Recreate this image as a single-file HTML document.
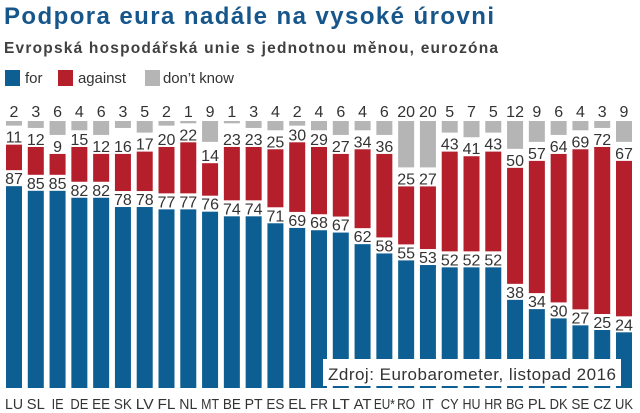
<!DOCTYPE html>
<html><head><meta charset="utf-8"><style>
body{margin:0;background:#fff;width:640px;height:413px;overflow:hidden;font-family:"Liberation Sans",sans-serif}
svg{display:block}
</style></head><body>
<svg id="chart" width="640" height="413" xmlns="http://www.w3.org/2000/svg">
<text x="4" y="24" font-size="24" font-weight="bold" fill="#17568b" textLength="490" font-family="Liberation Sans, sans-serif">Podpora eura nadále na vysoké úrovni</text>
<text x="4" y="53" font-size="15.5" font-weight="bold" fill="#404040" textLength="494" font-family="Liberation Sans, sans-serif">Evropská hospodářská unie s jednotnou měnou, eurozóna</text>
<g font-size="15" fill="#333">
<rect x="5" y="70" width="15" height="16" fill="#0d5f93"/>
<text x="25" y="83">for</text>
<rect x="58" y="70" width="15" height="16" fill="#b41f2b"/>
<text x="78" y="83" textLength="48">against</text>
<rect x="145" y="70" width="15" height="16" fill="#b5b5b5"/>
<text x="163" y="83" textLength="71">don’t know</text>
</g>
<g id="bars"></g>
<rect x="323" y="359" width="298" height="27" fill="#fff"/>
<text x="328" y="380" font-size="17" fill="#333" textLength="288">Zdroj: Eurobarometer, listopad 2016</text>
</svg>
<script>
const categories=["LU","SL","IE","DE","EE","SK","LV","FL","NL","MT","BE","PT","ES","EL","FR","LT","AT","EU*","RO","IT","CY","HU","HR","BG","PL","DK","SE","CZ","UK"];
const forValues=[87,85,85,82,82,78,78,77,77,76,74,74,71,69,68,67,62,58,55,53,52,52,52,38,34,30,27,25,24];
const againstValues=[11,12,9,15,12,16,17,20,22,14,23,23,25,30,29,27,34,36,25,27,43,41,43,50,57,64,69,72,67];
const dkValues=[2,3,6,4,6,3,5,2,1,9,1,3,4,2,4,6,4,6,20,20,5,7,5,12,9,6,4,3,9];
const k=2.32, bottom=388, grayTop=121, gap=16, bw=16;
const x0=14, step=(624-14)/28;
const xScale=i=>x0+i*step;
const yH=v=>v*k;
const g=document.getElementById('bars');
const NS='http://www.w3.org/2000/svg';
function mk(tag,attrs){const e=document.createElementNS(NS,tag);for(const a in attrs)e.setAttribute(a,attrs[a]);g.appendChild(e);return e;}
function txt(x,y,s,size,len){const a={x:x,y:y,'text-anchor':'middle','font-size':size,fill:'#333'};if(len){a.textLength=len;a.lengthAdjust='spacingAndGlyphs';}const t=mk('text',a);t.textContent=s;return t;}
categories.forEach((c,i)=>{
  const cx=xScale(i);
  const bTop=bottom-yH(forValues[i]);
  const b=mk('rect',{x:cx-bw/2,y:bTop,width:bw,height:yH(forValues[i]),fill:'#0d5f93'});
  
  
  const rBot=bTop-gap, rTop=rBot-yH(againstValues[i]);
  const r=mk('rect',{x:cx-bw/2,y:rTop,width:bw,height:yH(againstValues[i]),fill:'#b41f2b'});
  
  
  const d=mk('rect',{x:cx-bw/2,y:grayTop,width:bw,height:yH(dkValues[i]),fill:'#b5b5b5'});
  
  
  const t1=txt(cx,bTop-2,forValues[i],16);
  
  
  const t2=txt(cx,rTop-2,againstValues[i],16);
  
  
  const t3=txt(cx,grayTop-4,dkValues[i],16);
  
  
  const len=c.length>2?21:(c==="IE"||c==="IT"?12:18);
  const l=txt(cx,409,c,15,len);
  
  
});
</script>
</body></html>
